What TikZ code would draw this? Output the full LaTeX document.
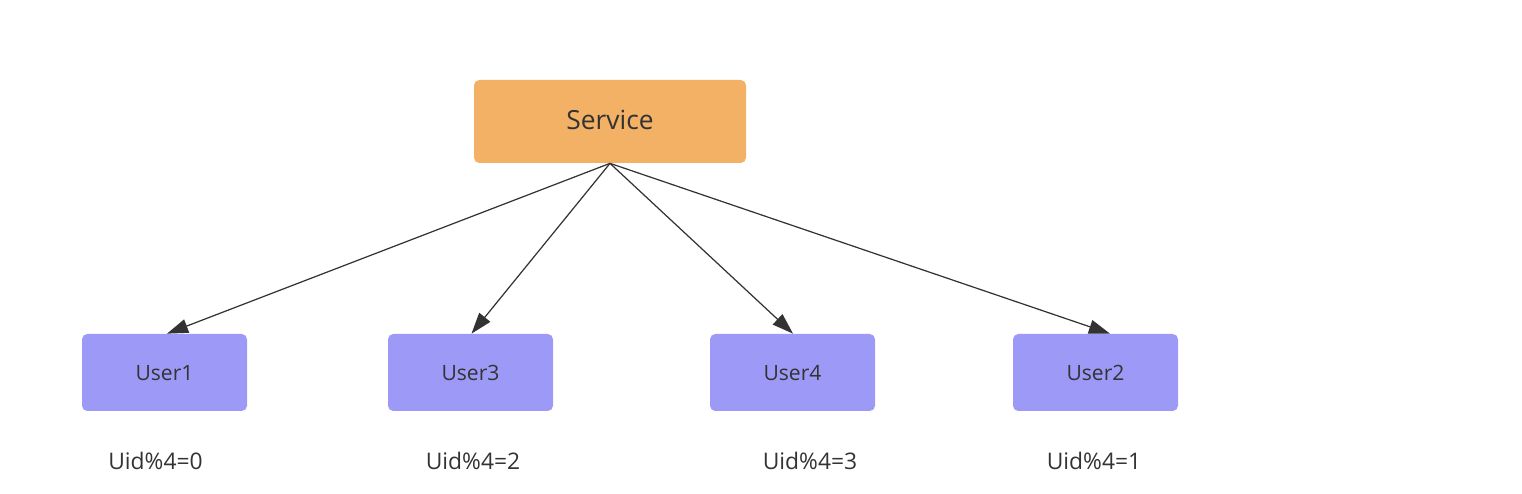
\documentclass[tikz,border=0pt]{standalone}
\usepackage{fontspec}
\setmainfont{Open Sans}
\usepackage{tikz}
\usetikzlibrary{arrows.meta}

\definecolor{servicefill}{RGB}{243,177,101}
\definecolor{userfill}{RGB}{157,153,246}
\definecolor{inkgrey}{RGB}{51,51,51}

\begin{document}
\begin{tikzpicture}[every node/.style={text=inkgrey,inner sep=0pt,text height=1.85ex,text depth=0.2ex}]
    \useasboundingbox (0,0) rectangle (30.44,-9.88);
    \tikzset{servicebox/.style={fill=servicefill,rounded corners=3pt,minimum width=5.44cm,minimum height=1.66cm,font=\fontsize{15}{18}\selectfont},
             userbox/.style={fill=userfill,rounded corners=3pt,minimum width=3.3cm,minimum height=1.54cm,font=\fontsize{12}{14}\selectfont},
             uidlabel/.style={font=\fontsize{13}{15}\selectfont},
             connector/.style={draw=inkgrey,line width=0.7pt,-{Triangle[length=12pt,width=8pt]}}}

    \node (service)[servicebox] at (12.2, -2.43) {Service};
    \node (user1)[userbox] at (3.29, -7.45) {User1};
    \node (user3)[userbox] at (9.41, -7.45) {User3};
    \node (user4)[userbox] at (15.85, -7.45) {User4};
    \node (user2)[userbox] at (21.91, -7.45) {User2};

    \node (uid1)[uidlabel] at (3.11, -9.24) {Uid\%4=0};
    \node (uid3)[uidlabel] at (9.46, -9.24) {Uid\%4=2};
    \node (uid4)[uidlabel] at (16.2, -9.24) {Uid\%4=3};
    \node (uid2)[uidlabel] at (21.88, -9.24) {Uid\%4=1};

    \path (service.south) edge[connector] ([xshift=0.05cm]user1.north);
    \path (service.south) edge[connector] ([xshift=0.02cm]user3.north);
    \path (service.south) edge[connector] ([xshift=0.01cm]user4.north);
    \path (service.south) edge[connector] ([xshift=0.29cm]user2.north);
\end{tikzpicture}
\end{document}
